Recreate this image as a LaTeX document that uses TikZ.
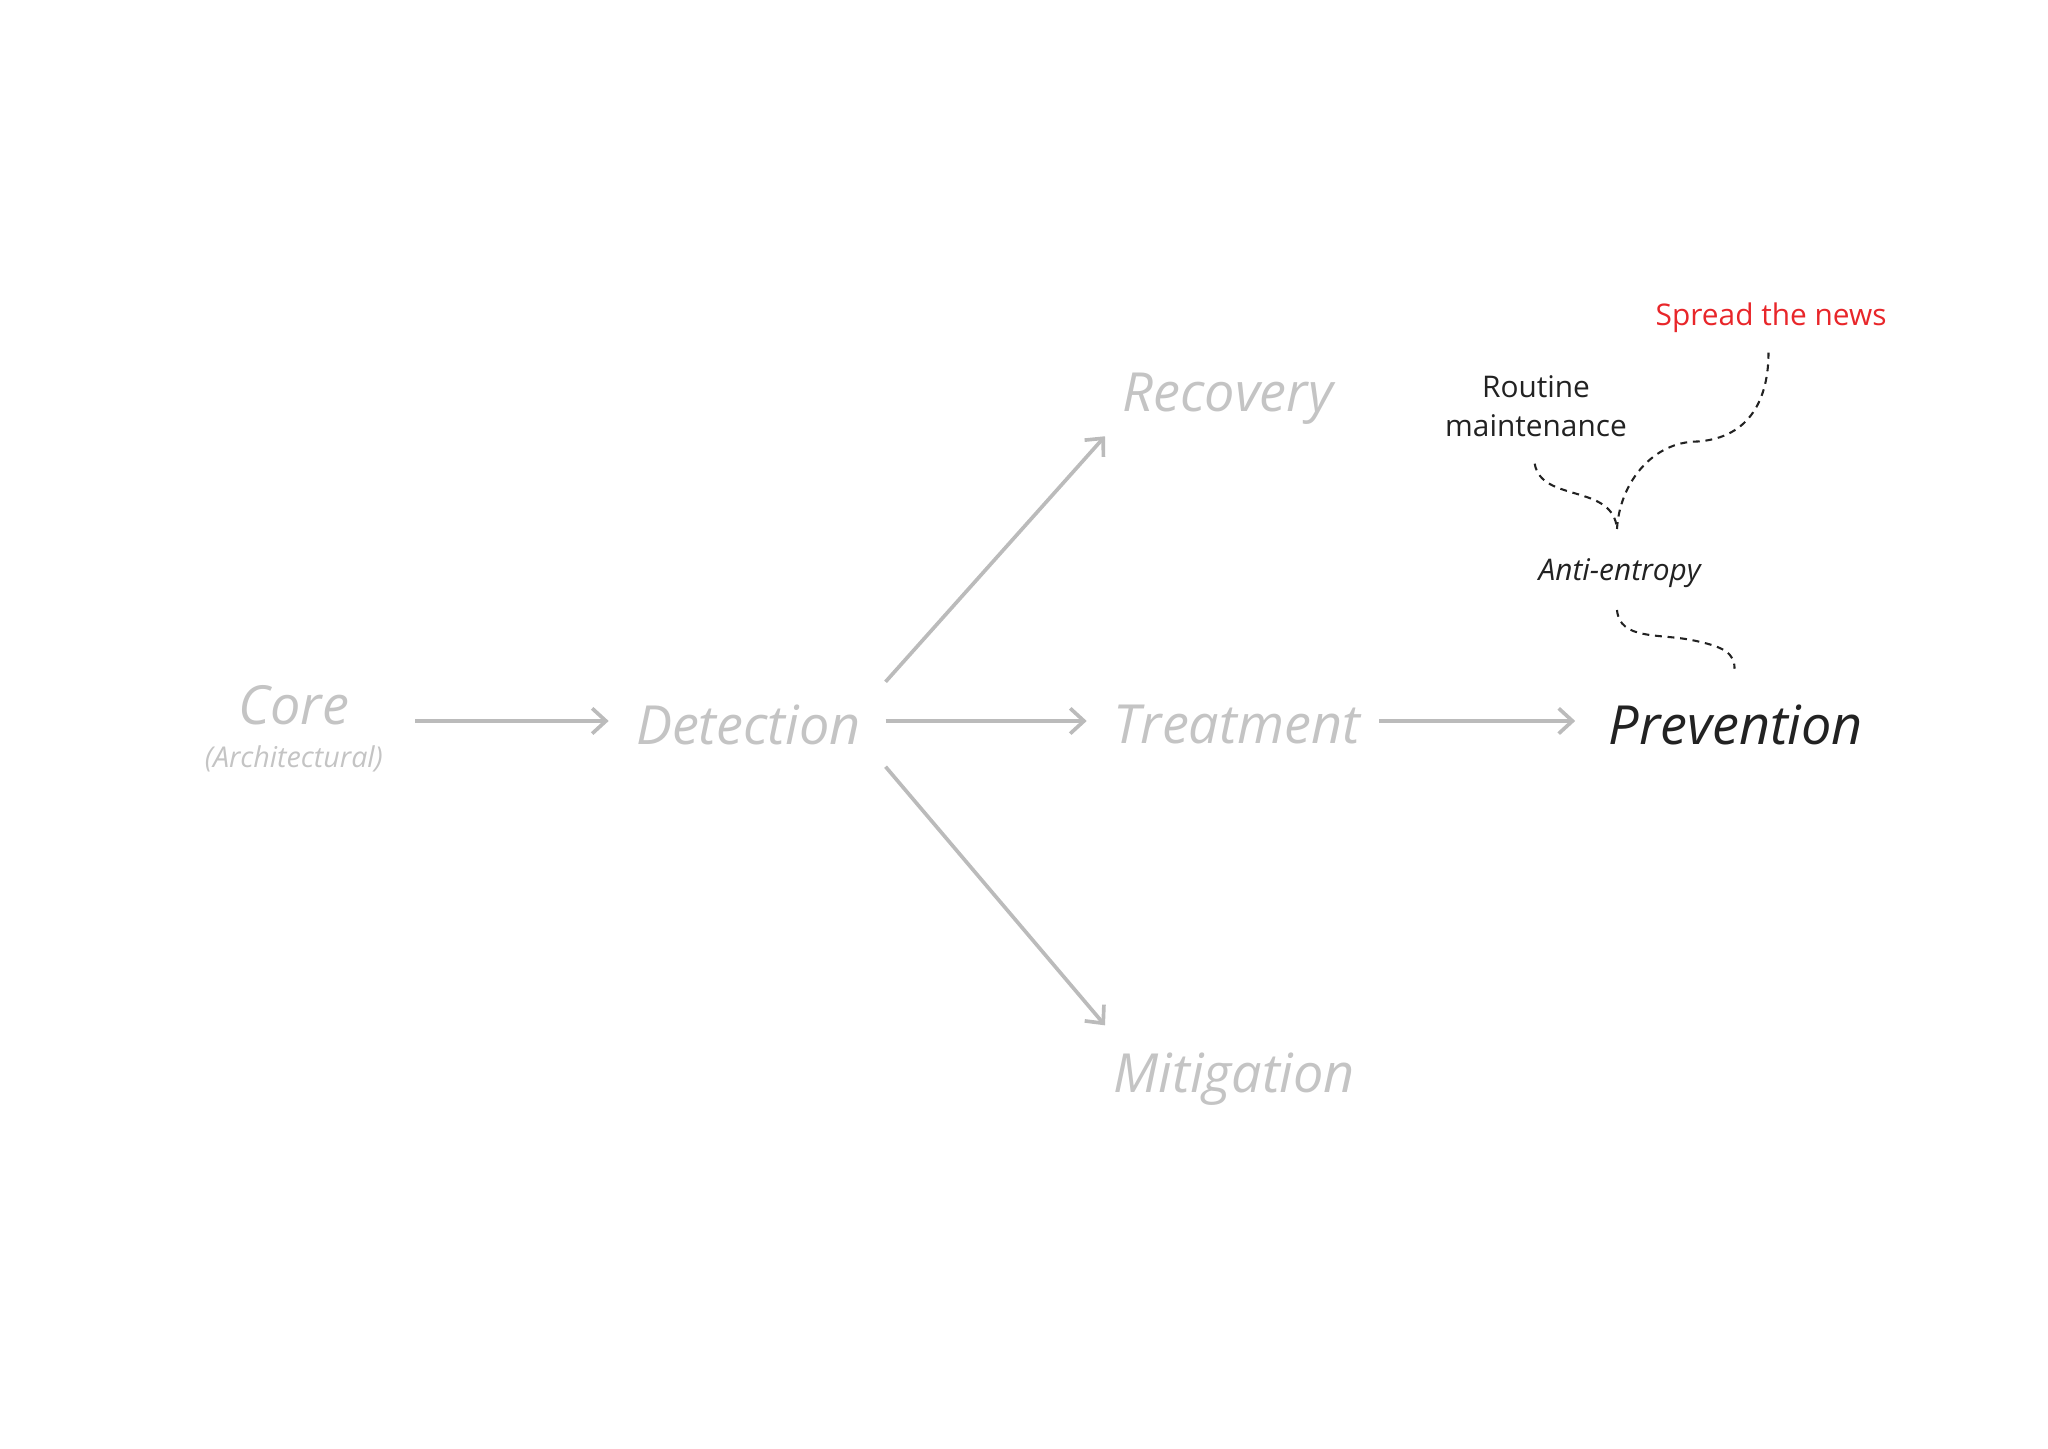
\documentclass[tikz,border=0pt]{standalone}
\usepackage{fontspec}
\setmainfont{Open Sans}
\usetikzlibrary{arrows.meta}
\definecolor{lg}{HTML}{C4C4C4}
\definecolor{ag}{HTML}{BBBBBB}
\definecolor{dk}{HTML}{222222}
\definecolor{rd}{HTML}{E8262A}
\begin{document}
\begin{tikzpicture}[x=0.02cm,y=-0.02cm,
  big/.style={font=\fontsize{23.5}{28}\selectfont\itshape, text=lg, inner sep=0pt},
  small/.style={font=\fontsize{13}{17}\selectfont, text=dk, inner sep=0pt, align=center},
  arr/.style={draw=ag, line width=1.6pt, -{Straight Barb[length=6pt,width=11pt,line width=1.6pt]}},
  dsh/.style={draw=dk, line width=0.9pt, dash pattern=on 3pt off 2.5pt}]
\useasboundingbox (0,0) rectangle (1568,1109);
\node[big] (core) at (225,540) {Core};
\node[font=\fontsize{12.5}{16}\selectfont\itshape, text=lg] (arch) at (225,581) {(Architectural)};
\node[big] (det) at (573,555) {Detection};
\node[big] (rec) at (940,305) {Recovery};
\node[big] (tre) at (947,555) {Treatment};
\node[big] (mit) at (945,826) {Mitigation};
\node[big, text=dk] (pre) at (1329,555) {Prevention};
\node[small, font=\fontsize{13}{17}\selectfont\itshape] (anti) at (1240,439) {Anti-entropy};
\node[small] (rout) at (1176,311) {Routine\\maintenance};
\node[small, text=rd] (news) at (1356,243) {Spread the news};
\coordinate (a1) at (318,552); \coordinate (a2) at (466,552);
\coordinate (b1) at (678,522); \coordinate (b2) at (846,334);
\coordinate (c1) at (678,552); \coordinate (c2) at (832,552);
\coordinate (d1) at (678,587); \coordinate (d2) at (846,785);
\coordinate (e1) at (1056,552); \coordinate (e2) at (1206,552);
\draw[arr] (a1) -- (a2);
\draw[arr] (b1) -- (b2);
\draw[arr] (c1) -- (c2);
\draw[arr] (d1) -- (d2);
\draw[arr] (e1) -- (e2);
\coordinate (m) at (1238,405);
\coordinate (r0) at (1175,355);
\coordinate (n0) at (1354,270);
\coordinate (p0) at (1238,467);
\coordinate (p1) at (1328,512);
\draw[dsh] (r0) .. controls (1180,385) and (1235,370) .. (m);
\draw[dsh] (m) .. controls (1240,370) and (1265,338) .. (1300,338) .. controls (1340,335) and (1354,305) .. (n0);
\draw[dsh] (p0) .. controls (1240,490) and (1270,485) .. (1295,490) .. controls (1320,495) and (1328,500) .. (p1);
\end{tikzpicture}
\end{document}
